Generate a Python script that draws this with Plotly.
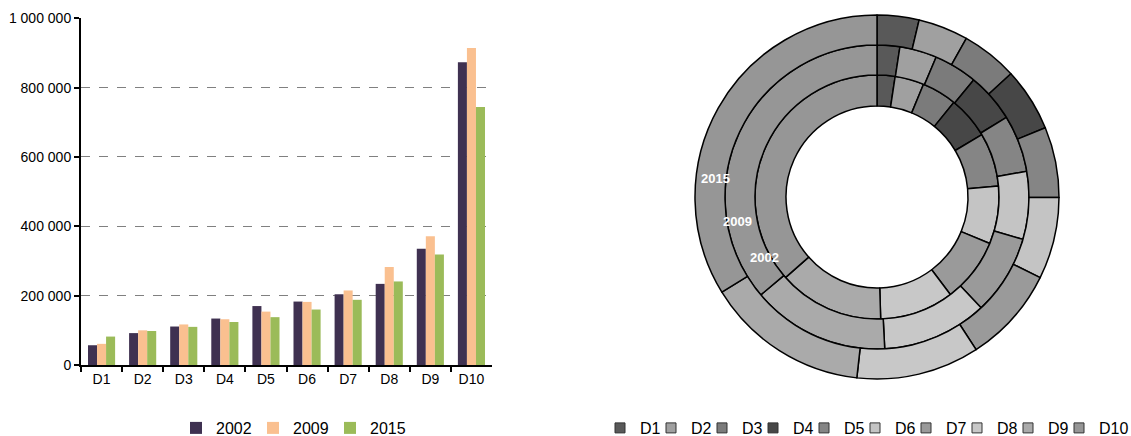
import math
import plotly.graph_objects as go

categories = ["D1", "D2", "D3", "D4", "D5", "D6", "D7", "D8", "D9", "D10"]
years = ["2002", "2009", "2015"]
v2002 = [57000, 92000, 111000, 134000, 170000, 183000, 204000, 234000, 335000, 873000]
v2009 = [61000, 100000, 117000, 132000, 154000, 182000, 215000, 283000, 371000, 914000]
v2015 = [82000, 98000, 110000, 124000, 138000, 160000, 188000, 241000, 319000, 744000]
bar_colors = ["#3f3151", "#fac090", "#9bbb59"]
slice_colors = ["#595959", "#a0a0a0", "#7b7b7b", "#474747", "#858585",
                "#c4c4c4", "#9a9a9a", "#c8c8c8", "#aaaaaa", "#969696"]

W, H = 1131, 436
FONT = "Liberation Sans, Arial, sans-serif"

fig = go.Figure()
for i, (yr, vals, col) in enumerate(zip(years, [v2002, v2009, v2015], bar_colors)):
    fig.add_trace(go.Bar(x=categories, y=vals, name=yr, marker_color=col,
                         marker_line_width=0, legend="legend",
                         legendwidth=(32 if i < len(years) - 1 else 45)))

# donut geometry (pixels)
cx, cy = 877, 197
ring_outer = {"2015": 182, "2009": 152, "2002": 122}
inner_of = {"2015": 152, "2009": 122, "2002": 91}
for i, (yr, vals) in enumerate(zip(years, [v2002, v2009, v2015])):
    R = ring_outer[yr]
    fig.add_trace(go.Pie(
        labels=categories, values=vals, sort=False, direction="clockwise",
        rotation=0, hole=inner_of[yr] / R, textinfo="none", hoverinfo="label+value",
        marker=dict(colors=slice_colors, line=dict(color="black", width=1.5)),
        domain=dict(x=[(cx - R) / W, (cx + R) / W], y=[1 - (cy + R) / H, 1 - (cy - R) / H]),
        showlegend=False, name=yr,
    ))

# legend entries for the donut slices
for j, (cat, col) in enumerate(zip(categories, slice_colors)):
    fig.add_trace(go.Scatter(
        x=[None], y=[None], mode="markers", name=cat, legend="legend2",
        marker=dict(symbol="square", size=10, color=col, line=dict(color="#333333", width=1)),
        legendwidth=(6 if j < len(categories) - 1 else 32), hoverinfo="skip",
    ))

# ring labels
label_pos = {"2015": (276.6, 163), "2009": (259.9, 142), "2002": (237.8, 114)}
for yr in years:
    ang, r = label_pos[yr]
    a = math.radians(ang)
    px = cx + r * math.sin(a)
    py = cy - r * math.cos(a)
    fig.add_annotation(x=px / W, y=1 - py / H, xref="paper", yref="paper", text=yr,
                       showarrow=False, font=dict(family=FONT, size=13, color="white", weight="bold"))

fig.update_layout(
    width=W, height=H, margin=dict(l=0, r=0, t=0, b=0, autoexpand=False),
    paper_bgcolor="white", plot_bgcolor="white",
    separators=". ",
    font=dict(family=FONT, size=14, color="black"),
    barmode="group", bargap=0.34, bargroupgap=0,
    xaxis=dict(domain=[81 / W, 492 / W], showline=True, linecolor="black", linewidth=2,
               ticks="outside", tickson="boundaries", ticklen=5, tickcolor="black", tickwidth=2,
               showgrid=False, tickfont=dict(size=14), automargin=False),
    yaxis=dict(domain=[1 - 365 / H, 1 - 18.3 / H], range=[0, 1000000], dtick=200000,
               tickformat=",d", showline=True, linecolor="black", linewidth=2,
               ticks="outside", ticklen=5, tickcolor="black", tickwidth=2,
               showgrid=True, gridcolor="#808080", griddash="dash", gridwidth=1,
               zeroline=False, tickfont=dict(size=14), automargin=False),
    legend=dict(orientation="h", x=176 / W, xanchor="left", y=1 - 428 / H, yanchor="middle",
                font=dict(size=16), itemwidth=30, traceorder="normal"),
    legend2=dict(orientation="h", x=600 / W, xanchor="left", y=1 - 428 / H, yanchor="middle",
                 font=dict(size=16), itemwidth=30, traceorder="normal"),
)

fig.write_html("out.html")
